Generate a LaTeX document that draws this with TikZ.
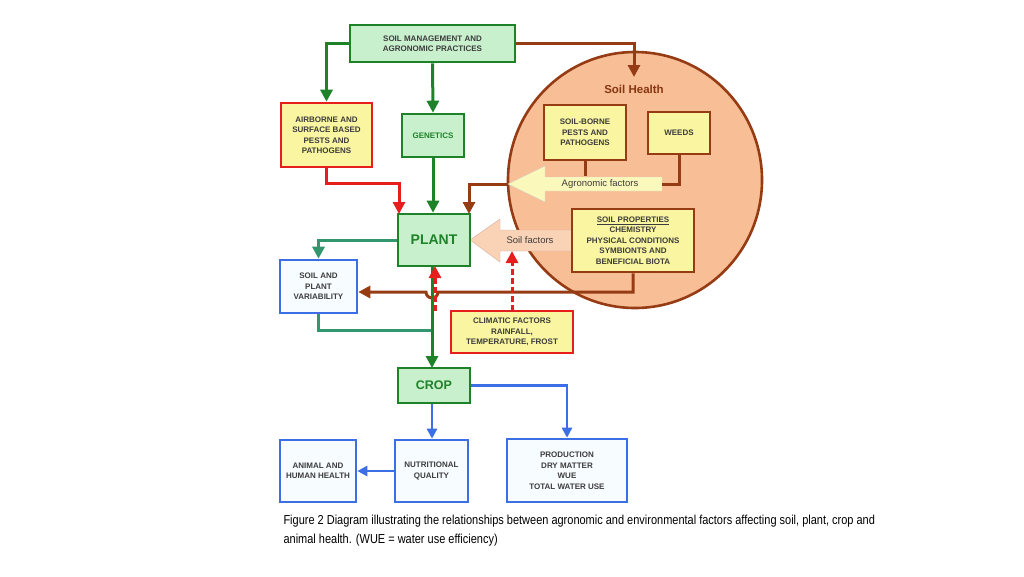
\documentclass[tikz,border=0pt]{standalone}
\usepackage{fontspec}
\setmainfont{Liberation Sans}
\newfontfamily\narrowfont{Liberation Sans}[FakeStretch=0.845]
\usetikzlibrary{arrows.meta}
\definecolor{gline}{RGB}{30,130,40}
\definecolor{gfill}{RGB}{200,240,205}
\definecolor{rline}{RGB}{230,30,30}
\definecolor{yfill}{RGB}{250,245,160}
\definecolor{bline}{RGB}{60,110,230}
\definecolor{bfill}{RGB}{215,240,255}
\definecolor{brown}{RGB}{150,60,20}
\definecolor{soilfill}{RGB}{248,190,150}
\definecolor{teal}{RGB}{50,150,110}
\definecolor{txt}{RGB}{60,60,60}
\tikzset{
  box/.style={draw, line width=2.6pt, inner sep=2pt, align=center, font=\fontsize{8}{10.5}\selectfont\bfseries, text=txt},
  gbox/.style={box, draw=gline, fill=gfill},
  ybox/.style={box, draw=rline, fill=yfill},
  sbox/.style={box, draw=brown, fill=yfill},
  bbox/.style={box, draw=bline, fill=white!80!bfill},
  garr/.style={draw=gline, line width=3pt, -{Triangle[length=12pt,width=12pt]}},
  rarr/.style={draw=rline, line width=3pt, -{Triangle[length=12pt,width=12pt]}},
  barr/.style={draw=brown, line width=3pt, -{Triangle[length=12pt,width=12pt]}},
  bluearr/.style={draw=bline, line width=2.8pt, -{Triangle[length=10pt,width=10pt]}},
}
\begin{document}
\begin{tikzpicture}[x=1pt,y=-1pt]
  \useasboundingbox (0,0) rectangle (1024,576);
  % soil health circle
  \fill[soilfill, draw=brown, line width=2.6pt] (635,180) ellipse (127 and 128);
  \node[text=brown!90!black, font=\fontsize{11.5}{13}\selectfont\bfseries] (health) at (634,89) {Soil Health};

  % boxes
  \node[gbox, minimum width=165, minimum height=37] (mgmt) at (432.5,43.5) {SOIL MANAGEMENT AND\\AGRONOMIC PRACTICES};
  \node[ybox, minimum width=91, minimum height=64] (air) at (326.5,135) {AIRBORNE AND\\SURFACE BASED\\PESTS AND\\PATHOGENS};
  \node[gbox, text=gline, minimum width=62, minimum height=43] (gen) at (433,135.5) {GENETICS};
  \node[sbox, minimum width=82, minimum height=55] (borne) at (585,132.5) {SOIL-BORNE\\PESTS AND\\PATHOGENS};
  \node[sbox, minimum width=62, minimum height=42] (weeds) at (679,133) {WEEDS};

  % big arrows
  \fill[yfill!70!white, draw=yfill!60!black!40, line width=0.4pt] (508,184) -- (545,166) -- (545,177) -- (662,177) -- (662,191) -- (545,191) -- (545,202) -- cycle;
  \node[font=\fontsize{9.5}{11}\selectfont, text=txt] (agro) at (600,184) {Agronomic factors};
  \fill[soilfill!70!white, draw=brown!40, line width=0.4pt] (470,240) -- (500,219) -- (500,230) -- (575,230) -- (575,251) -- (500,251) -- (500,262) -- cycle;
  \node[font=\fontsize{9.5}{11}\selectfont, text=txt] (sfac) at (530,240) {Soil factors};

  \node[sbox, minimum width=122, minimum height=63] (prop) at (633,240.5) {\underline{SOIL PROPERTIES}\\CHEMISTRY\\PHYSICAL CONDITIONS\\SYMBIONTS AND\\BENEFICIAL BIOTA};
  \node[gbox, text=gline, minimum width=72, minimum height=52, font=\fontsize{14}{16}\selectfont\bfseries] (plant) at (434,240) {PLANT};
  \node[bbox, minimum width=77, minimum height=53] (var) at (318.5,286.5) {SOIL AND\\PLANT\\VARIABILITY};
  \node[ybox, minimum width=122, minimum height=42] (clim) at (512,332) {CLIMATIC FACTORS\\RAINFALL,\\TEMPERATURE, FROST};
  \node[gbox, text=gline, minimum width=72, minimum height=35, font=\fontsize{12.5}{14}\selectfont\bfseries] (crop) at (434,385.5) {CROP};
  \node[bbox, minimum width=76, minimum height=62] (animal) at (318,471) {ANIMAL AND\\HUMAN HEALTH};
  \node[bbox, minimum width=73, minimum height=62] (nutr) at (431.5,471) {NUTRITIONAL\\QUALITY};
  \node[bbox, minimum width=120, minimum height=63] (prod) at (567,470.5) {PRODUCTION\\DRY MATTER\\WUE\\TOTAL WATER USE};

  % connectors
  \coordinate (hop) at (432,292);
  \draw[garr] (mgmt.west) -| (air.north);
  \draw[garr] (mgmt.south) -- (gen.north);
  \draw[barr] (mgmt.east) -| (634,77);
  \draw[rarr] (air.south) |- (399,183) -- (399,214);
  \draw[garr] (gen.south) -- (gen.south |- plant.north);
  \draw[draw=brown, line width=3pt] (borne.south) -- (585,176);
  \draw[draw=brown, line width=3pt] (weeds.south) |- (662,184);
  \draw[barr] (508,184) -| (469,214);
  \draw[draw=teal, line width=3pt, -{Triangle[length=12pt,width=12pt]}] (plant.west) -| (var.north);
  \draw[draw=teal, line width=3pt] (var.south) |- (432,330);
  \draw[barr] (prop.south) |- (438,292) arc (0:180:6) -- (var.east |- hop);
  \draw[garr] (plant.south -| 432,0) -- (432,368);
  \draw[rarr, dashed, dash pattern=on 6pt off 3pt] (435,311) -- (435,266);
  \draw[rarr, dashed, dash pattern=on 6pt off 3pt] (512,311) -- (512,251);
  \draw[bluearr] (crop.south -| 432,0) -- (nutr.north -| 432,0);
  \draw[bluearr] (crop.east) -| (prod.north);
  \draw[bluearr] (nutr.west) -- (animal.east);

  \node[anchor=north west, align=left, font=\narrowfont\fontsize{13}{19}\selectfont] (cap) at (280,512) {Figure 2 Diagram illustrating the relationships between agronomic and environmental factors affecting soil, plant, crop and\\animal health. (WUE = water use efficiency)};
\end{tikzpicture}
\end{document}
